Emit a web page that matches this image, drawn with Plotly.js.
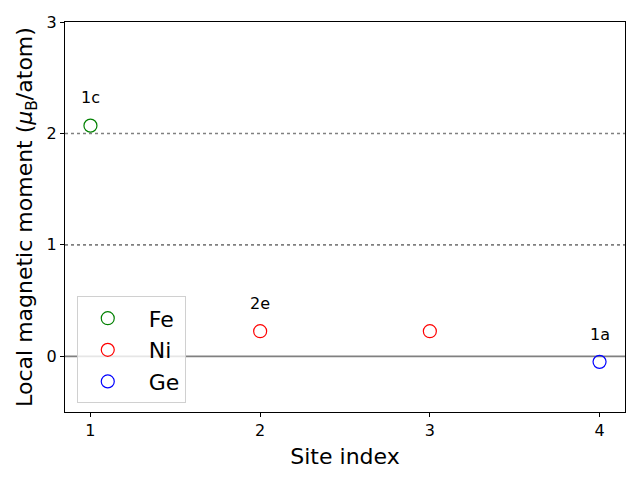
<!DOCTYPE html>
<html>
<head>
<meta charset="utf-8">
<script src="https://cdn.plot.ly/plotly-3.0.1.min.js"></script>
<style>html,body{margin:0;padding:0;background:#fff;}#plot{width:640px;height:480px;}</style>
</head>
<body>
<div id="plot"></div>
<script>
// Data
const elements = ["Fe", "Ni", "Ge"];
const colors = ["green", "red", "blue"];
const siteIndexFe = [1];
const momentFe = [2.07];
const siteIndexNi = [2, 3];
const momentNi = [0.225, 0.225];
const siteIndexGe = [4];
const momentGe = [-0.05];
const wyckoffLabels = ["1c", "2e", "1a"];
const wyckoffSites = [1, 2, 4];
const wyckoffMoments = [2.07, 0.225, -0.05];
const refLevels = [0, 1, 2];
const xTicks = [1, 2, 3, 4];
const yTicks = [0, 1, 2, 3];

const xs = [siteIndexFe, siteIndexNi, siteIndexGe];
const ys = [momentFe, momentNi, momentGe];
const font = "DejaVu Sans, sans-serif";

const traces = elements.map((el, i) => ({
  type: "scatter", mode: "markers", name: "\u2002" + el,
  x: xs[i], y: ys[i],
  marker: {symbol: "circle-open", size: 13, color: colors[i], line: {width: 1.2, color: colors[i]}},
  cliponaxis: false
}));

const shapes = refLevels.map(v => ({
  type: "line", xref: "paper", x0: 0, x1: 1, yref: "y", y0: v, y1: v,
  line: {color: "gray", width: v === 0 ? 1.8 : 1.6, dash: v === 0 ? "solid" : "dot"},
  layer: "below"
}));

const annotations = wyckoffLabels.map((t, i) => ({
  x: wyckoffSites[i], y: wyckoffMoments[i] + 0.25, xref: "x", yref: "y",
  text: t, showarrow: false, font: {family: font, size: 16, color: "black"}
}));

const layout = {
  width: 640, height: 480,
  margin: {l: 65, r: 15, t: 22, b: 68},
  paper_bgcolor: "white", plot_bgcolor: "white",
  font: {family: font, color: "black"},
  showlegend: true,
  legend: {
    x: 0.021, y: 0.022, xanchor: "left", yanchor: "bottom",
    bgcolor: "rgba(255,255,255,0.8)", bordercolor: "#d0d0d0", borderwidth: 1,
    font: {family: font, size: 22, color: "black"},
    itemwidth: 50, tracegroupgap: 0
  },
  xaxis: {
    range: [0.85, 4.15], tickvals: xTicks, ticktext: xTicks.map(String),
    showgrid: false, zeroline: false, showline: true, mirror: true,
    linecolor: "black", linewidth: 1, ticks: "outside", ticklen: 4, tickcolor: "black",
    tickfont: {family: font, size: 16},
    title: {text: "Site index", font: {family: font, size: 22}, standoff: 9}
  },
  yaxis: {
    range: [-0.5, 3], tickvals: yTicks, ticktext: yTicks.map(String),
    showgrid: false, zeroline: false, showline: true, mirror: true,
    linecolor: "black", linewidth: 1, ticks: "outside", ticklen: 4, tickcolor: "black",
    tickfont: {family: font, size: 16},
    title: {text: "Local magnetic moment (<i>μ</i><sub>B</sub>/atom)", font: {family: font, size: 22}, standoff: 7}
  },
  shapes: shapes,
  annotations: annotations
};

Plotly.newPlot("plot", traces, layout, {displayModeBar: false, staticPlot: true});
</script>
</body>
</html>
